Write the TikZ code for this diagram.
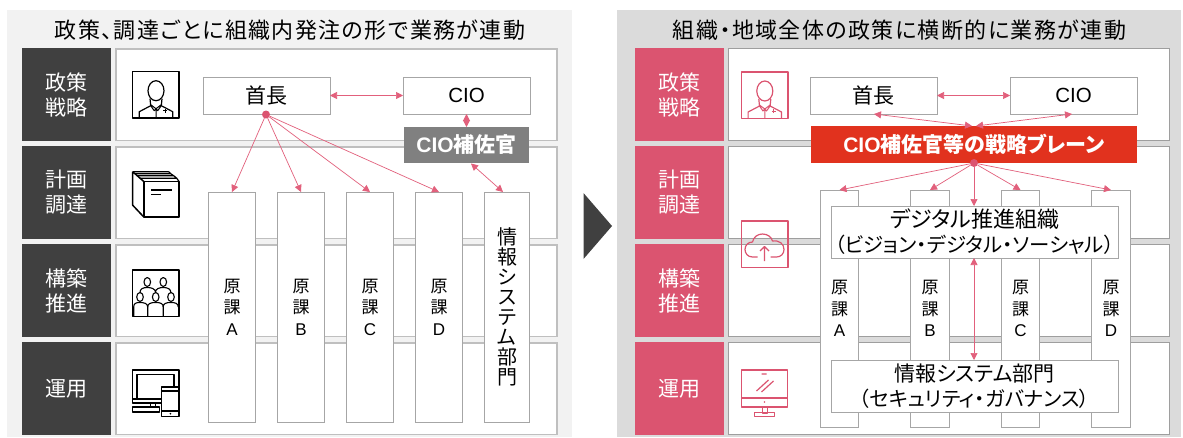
\documentclass[tikz,border=0pt]{standalone}
\usepackage{fontspec}
\setmainfont{Noto Sans CJK JP}[RawFeature=+palt]
\newfontfamily\latinfont{Liberation Sans}
\newfontfamily\titlefont{Noto Sans CJK JP}[RawFeature=+palt, LetterSpace=6.5]
\usepackage{tikz}
\usetikzlibrary{positioning, arrows.meta}

\definecolor{dark}{HTML}{404040}
\definecolor{pinkred}{HTML}{DB5470}
\definecolor{linkred}{HTML}{E2607C}
\definecolor{brain}{HTML}{E1321E}

\newcommand{\iconperson}[3]{\begin{scope}[shift={(#1,#2)}, line width=1.5pt, draw=#3, line join=round]
		\draw (0,0) rectangle (46.5,46.5);
		\draw[line width=1.2pt] (23.3,19) ellipse (8 and 10);
		\draw[line width=1.2pt] (17.3,27) -- (18,34) -- (6.6,40) -- (6.6,46.5);
		\draw[line width=1.2pt] (29.3,27) -- (28.6,34) -- (40,40) -- (40,46.5);
		\draw[line width=1pt] (18,33) -- (23.3,37) -- (28.6,33) (18,34) -- (21.5,39) -- (23.3,37) -- (25,39) -- (28.6,34) (23.3,38) -- (23.3,46.5);
		\draw[line width=1pt] (30.3,39) -- (34.3,39) (32.3,37) -- (32.3,41);
	\end{scope}}

\begin{document}
\begin{tikzpicture}[x=1pt, y=-1pt, node distance=5pt,
	base/.style={inner sep=0pt, outer sep=0pt},
	panel/.style={base, minimum width=565pt, minimum height=427pt},
	title/.style={base, font=\titlefont\fontsize{22}{26}\selectfont},
	hd/.style={base, text=white, minimum width=89pt, minimum height=93pt, align=center, font=\fontsize{21}{25}\selectfont},
	rowbox/.style={base, fill=white, draw=black!25, line width=1.5pt, minimum width=441pt, minimum height=91.5pt},
	box/.style={base, fill=white, draw=black!35, line width=.8pt, align=center},
	top/.style={box, minimum width=127pt, minimum height=37pt, font=\fontsize{21}{24}\selectfont},
	genka/.style={box, minimum width=47.5pt, minimum height=230pt, font=\fontsize{17}{21.5}\selectfont},
	genkaR/.style={box, minimum width=38.5pt, minimum height=237pt, font=\fontsize{17}{21.5}\selectfont},
	wide/.style={box, minimum width=287pt, minimum height=52pt, font=\fontsize{20.4}{25}\selectfont},
	lnk/.style={draw=linkred, line width=.7pt, {Triangle[length=7pt, width=7pt]}-{Triangle[length=7pt, width=7pt]}},
	lnkone/.style={draw=linkred, line width=.7pt, -{Triangle[length=7pt, width=7pt]}},
	dot/.style={circle, fill=pinkred, inner sep=0pt, outer sep=0pt, minimum size=8pt}]
	\useasboundingbox (0,0) rectangle (1183,437);

	\node[panel, fill=black!5] (panelL) at (289.5,223.5) {};
	\node[panel, fill=black!14, minimum width=564pt] (panelR) at (899,223.5) {};
	\node[title] (titleL) at (290,30) {政策、調達ごとに組織内発注の形で業務が連動};
	\node[title] (titleR) at (899.5,30) {組織・地域全体の政策に横断的に業務が連動};

	\node[hd, fill=dark] (headA) at (66.5,94.5) {政策\\戦略};
	\node[hd, fill=dark, below=of headA] (headB) {計画\\調達};
	\node[hd, fill=dark, below=of headB] (headC) {構築\\推進};
	\node[hd, fill=dark, below=of headC] (headD) {運用};
	\node[rowbox, right=5pt of headA] (rowA) {};
	\node[rowbox, right=5pt of headB] (rowB) {};
	\node[rowbox, right=5pt of headC] (rowC) {};
	\node[rowbox, right=5pt of headD] (rowD) {};

	\node[top] (chiefL) at (266.5,95.5) {首長};
	\node[top, right=73pt of chiefL, font=\latinfont\fontsize{20.5}{24}\selectfont] (cioL) {CIO};
	\node[genka] (genkaA) at (232,307) {原\\課\\{\latinfont A}};
	\node[genka, right=21.5pt of genkaA] (genkaB) {原\\課\\{\latinfont B}};
	\node[genka, right=21.5pt of genkaB] (genkaC) {原\\課\\{\latinfont C}};
	\node[genka, right=21.5pt of genkaC] (genkaD) {原\\課\\{\latinfont D}};
	\node[genka, minimum width=45.5pt, right=21.5pt of genkaD, font=\fontsize{20}{20}\selectfont] (infoL) {情\\報\\シ\\ス\\テ\\ム\\部\\門};
	\node[base, fill=black!50, text=white, minimum width=125pt, minimum height=36pt, font=\bfseries\fontsize{21}{24}\selectfont] (aideL) at (466.5,145) {{\latinfont CIO}補佐官};
	\node[dot] (dotL) at (266,114.5) {};
	\coordinate (aideLout) at (471,163.5);
	\coordinate (infoLin) at (503,192);

	\draw[lnk] (chiefL) -- (cioL);
	\draw[lnk] (cioL.south) -- (aideL.north);
	\draw[lnk] (aideLout) -- (infoLin);
	\draw[lnkone] (dotL) -- (genkaA.north);
	\draw[lnkone] (dotL) -- (genkaB.north);
	\draw[lnkone] (dotL) -- (genkaC.north);
	\draw[lnkone] (dotL) -- (genkaD.north);

	\iconperson{132.7}{71.7}{black}

	\begin{scope}[shift={(132.7,171.7)}, line width=1.5pt, line join=round]
		\draw (11.3,10) rectangle (46.5,45.5);
		\draw (0,0) -- (11.3,10) (0,0) -- (0,33.5) -- (11.3,45.5);
		\draw[line width=1.2pt] (0,0) -- (36,0) (2.5,2) -- (38,2) (4.5,4) -- (41,4) (7,6.5) -- (44,6.5) (36,0) -- (38,2) (38,2) -- (41,4) (41,4) -- (44,6.5) (44,6.5) -- (46.5,10);
		\draw[line width=1.2pt] (18.3,18.3) -- (39,18.3) (18.3,22.5) -- (28.3,22.5);
	\end{scope}

	\begin{scope}[shift={(132.7,270)}, line width=1.5pt, line join=round]
		\draw (0,0) rectangle (46.5,46.5);
		\draw[line width=1.1pt] (14.6,12) ellipse (3.3 and 4.5) (30.6,12) ellipse (3.3 and 4.5);
		\draw[line width=1.1pt] (7.3,23) .. controls (7,19) and (10,17.5) .. (14.6,17.5) .. controls (19,17.5) and (22.5,19) .. (22.8,22) .. controls (23,19) and (26,17.5) .. (30.6,17.5) .. controls (35,17.5) and (38.3,19) .. (38.3,23);
		\draw[line width=1.1pt] (7.3,27) ellipse (3.3 and 4.5) (23,27) ellipse (3.3 and 4.5) (38.3,27) ellipse (3.3 and 4.5);
		\draw[line width=1.1pt] (1,46.5) -- (1,37) .. controls (1,33.5) and (3,32.5) .. (7.3,32.5) .. controls (11.6,32.5) and (15,33.5) .. (15,37) -- (15,46.5);
		\draw[line width=1.1pt] (15,37) .. controls (15,33.5) and (18,32.5) .. (23,32.5) .. controls (28,32.5) and (30.5,33.5) .. (30.5,37) -- (30.5,46.5);
		\draw[line width=1.1pt] (30.5,37) .. controls (30.5,33.5) and (33,32.5) .. (38.3,32.5) .. controls (43,32.5) and (45.5,33.5) .. (45.5,37);
	\end{scope}

	\begin{scope}[shift={(132.7,370)}, line width=1.5pt, line join=round]
		\draw (0,0) rectangle (46.5,33);
		\draw (4.5,4.5) rectangle (41.5,29);
		\draw (0,29) -- (4.5,29) (18,33) -- (18,37) (23,33) -- (23,37);
		\draw (0,37) rectangle (27,42);
		\draw[fill=white] (29,17) rectangle (46.5,46.5);
		\draw[line width=1.1pt] (29,21) -- (46.5,21) (29,41) -- (46.5,41);
		\fill (37.7,43.7) circle (.9);
	\end{scope}

	\node[hd, fill=pinkred] (headE) at (679,94.5) {政策\\戦略};
	\node[hd, fill=pinkred, below=of headE] (headF) {計画\\調達};
	\node[hd, fill=pinkred, below=of headF] (headG) {構築\\推進};
	\node[hd, fill=pinkred, below=of headG] (headH) {運用};
	\node[rowbox, draw=black!38, line width=1.2pt, right=5pt of headE] (rowE) {};
	\node[rowbox, draw=black!38, line width=1.2pt, right=5pt of headF] (rowF) {};
	\node[rowbox, draw=black!38, line width=1.2pt, right=5pt of headG] (rowG) {};
	\node[rowbox, draw=black!38, line width=1.2pt, right=5pt of headH] (rowH) {};

	\node[top] (chiefR) at (873.5,95.5) {首長};
	\node[top, right=73pt of chiefR, font=\latinfont\fontsize{20.5}{24}\selectfont] (cioR) {CIO};
	\node[genkaR] (genkaE) at (839.5,308.5) {原\\課\\{\latinfont A}};
	\node[genkaR, right=52pt of genkaE] (genkaF) {原\\課\\{\latinfont B}};
	\node[genkaR, right=52pt of genkaF] (genkaG) {原\\課\\{\latinfont C}};
	\node[genkaR, right=52pt of genkaG] (genkaH) {原\\課\\{\latinfont D}};
	\node[wide] (digital) at (974.5,232) {{\fontsize{22}{25}\selectfont デジタル推進組織}\\（ビジョン・デジタル・ソーシャル）};
	\node[wide] (infoR) at (974.5,386) {{\fontsize{21}{25}\selectfont 情報システム部門}\\（セキュリティ・ガバナンス）};
	\node[base, fill=brain, text=white, minimum width=326pt, minimum height=37pt, font=\bfseries\fontsize{21}{24}\selectfont] (brainbox) at (974,144.5) {{\latinfont CIO}補佐官等の戦略ブレーン};
	\node[dot] (dotR) at (974,163) {};
	\coordinate (brainA) at (972,126);
	\coordinate (brainB) at (976,126);
	\coordinate (chiefRout) at (874,114);
	\coordinate (cioRout) at (1072,114);

	\draw[lnk] (chiefR) -- (cioR);
	\draw[lnk] (chiefRout) -- (brainA);
	\draw[lnk] (brainB) -- (cioRout);
	\draw[lnkone] (dotR) -- (genkaE.north);
	\draw[lnkone] (dotR) -- (genkaF.north);
	\draw[lnkone] (dotR) -- (digital.north -| dotR);
	\draw[lnkone] (dotR) -- (genkaG.north);
	\draw[lnkone] (dotR) -- (genkaH.north);
	\draw[lnk] (digital.south -| dotR) -- (infoR.north -| dotR);

	\iconperson{741.5}{72}{pinkred}

	\begin{scope}[shift={(741.5,221)}, line width=1.5pt, draw=pinkred, line join=round]
		\draw (0,0) rectangle (46.5,46.5);
		\draw[line width=1.2pt] (16,36) -- (11,36) .. controls (6,36) and (3.5,32) .. (3.5,28.5) .. controls (3.5,24) and (7,21) .. (11,21) .. controls (12,16) and (16,13) .. (21,13) .. controls (26,13) and (30,16) .. (31,20) .. controls (38,19) and (42.5,23) .. (42.5,28.5) .. controls (42.5,33) and (39,36) .. (35,36) -- (29,36);
		\draw[line width=1.2pt] (23,40) -- (23,26) (18.5,30) -- (23,25.5) -- (27.5,30);
	\end{scope}

	\begin{scope}[shift={(741.5,370)}, line width=1.5pt, draw=pinkred, line join=round]
		\draw (0,0) rectangle (46,37);
		\draw (0,28) -- (46,28) (21,43) rectangle (26,37) (13,42.5) rectangle (33,46.5);
		\draw[line width=1.2pt] (20,4) -- (25,4) (15,21) -- (27,10) (20,22) -- (32,11);
		\fill[pinkred] (23,32) circle (.9);
	\end{scope}

	\fill[dark] (583.5,193) -- (612,226) -- (583.5,259) -- cycle;
\end{tikzpicture}
\end{document}
